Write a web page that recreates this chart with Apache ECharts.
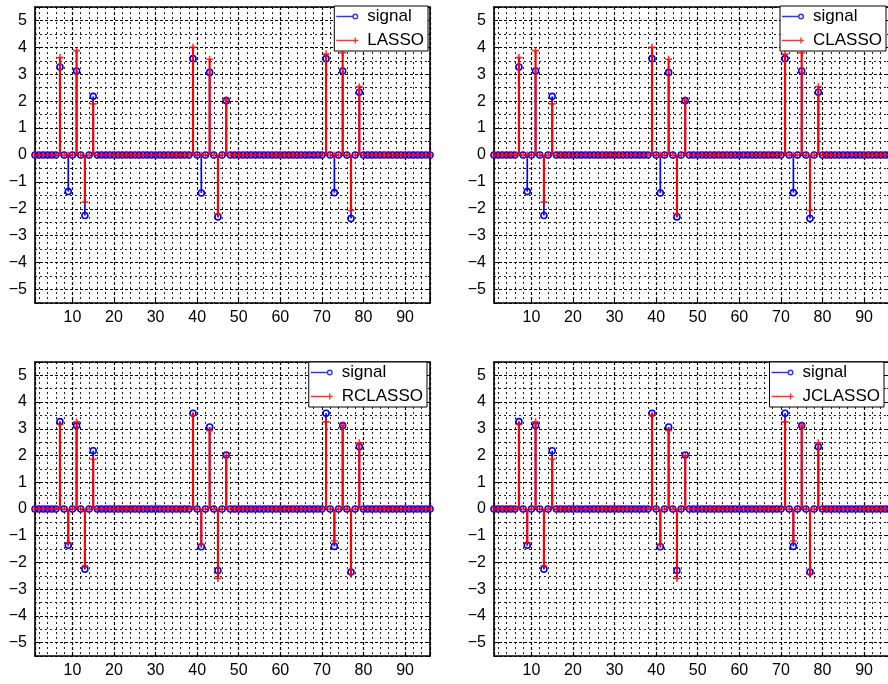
<!DOCTYPE html>
<html>
<head>
<meta charset="utf-8">
<script src="https://cdn.jsdelivr.net/npm/echarts@6/dist/echarts.min.js"></script>
<style>
html, body { margin: 0; padding: 0; background: #fff; }
#main { width: 888px; height: 684px; }
</style>
</head>
<body>
<div id="main"></div>
<script>
// signal length and positions of the non-zero entries
var N = 96;
var spikeIdx = [7, 9, 11, 13, 15, 39, 41, 43, 45, 47, 71, 73, 75, 77, 79];
var signalVal = [3.27, -1.36, 3.12, -2.25, 2.18, 3.58, -1.41, 3.07, -2.30, 2.02, 3.58, -1.40, 3.12, -2.36, 2.33];
var lassoVal = [3.62, 0, 3.88, -1.75, 1.90, 4.00, 0, 3.56, -2.20, 2.05, 3.75, 0, 3.80, -2.06, 2.54];
var classoVal = [3.62, 0, 3.88, -1.75, 1.90, 4.00, 0, 3.56, -2.20, 2.05, 3.75, 0, 3.80, -2.06, 2.54];
var rclassoVal = [3.16, -1.27, 3.26, -2.13, 1.86, 3.51, -1.33, 2.93, -2.60, 2.00, 3.26, -1.20, 3.14, -2.44, 2.48];
var jclassoVal = [3.16, -1.27, 3.26, -2.13, 1.86, 3.51, -1.33, 2.93, -2.60, 2.00, 3.26, -1.20, 3.14, -2.44, 2.48];
var xTickLabels = [10, 20, 30, 40, 50, 60, 70, 80, 90];
var yTickLabels = [-5, -4, -3, -2, -1, 0, 1, 2, 3, 4, 5];

var FONT = '"Liberation Sans", Arial, Helvetica, sans-serif';
var BLUE = '#0000ff', RED = '#ff0000';

// layout of the four subplots
var panels = [
  { name: 'LASSO', est: lassoVal, left: 35, top: 7, height: 296, legRight: 460, legTop: 6 },
  { name: 'CLASSO', est: classoVal, left: 494, top: 7, height: 296, legRight: 2, legTop: 6 },
  { name: 'RCLASSO', est: rclassoVal, left: 35, top: 362, height: 294, legRight: 461, legTop: 362 },
  { name: 'JCLASSO', est: jclassoVal, left: 494, top: 362, height: 294, legRight: 4, legTop: 362 }
];

function fullSeries(vals) {
  var out = [];
  for (var x = 1; x <= N; x++) {
    var k = spikeIdx.indexOf(x);
    out.push([x, k >= 0 ? vals[k] : 0]);
  }
  return out;
}

function stemRender(color, w) {
  return function (params, api) {
    var x = api.value(0), y = api.value(1);
    var p0 = api.coord([x, 0]);
    var p1 = api.coord([x, y]);
    return {
      type: 'line',
      shape: { x1: p0[0], y1: p0[1], x2: p1[0], y2: p1[1] },
      style: { stroke: color, lineWidth: w }
    };
  };
}

// ring marker drawn as a stroked circle through a custom series, so it stays round
function ringRender(color, r, w) {
  return function (params, api) {
    var p = api.coord([api.value(0), api.value(1)]);
    return {
      type: 'circle',
      shape: { cx: p[0], cy: p[1], r: r },
      style: { fill: 'none', stroke: color, lineWidth: w }
    };
  };
}

var iconSignal = 'path://M0 2.2H17V3.8H0Z M22 3A3 3 0 1 1 16 3A3 3 0 1 1 22 3Z M20.6 3A1.6 1.6 0 1 0 17.4 3A1.6 1.6 0 1 0 20.6 3Z';
var iconEst = 'path://M0 2.3H22V3.7H0Z M18.3 0H19.7V6H18.3Z';
var plusSym = 'path://M2.7 0H4.3V2.7H7V4.3H4.3V7H2.7V4.3H0V2.7H2.7Z';

var axisLineStyle = { color: '#000', width: 1.6 };
var majorSplit = { show: true, lineStyle: { color: '#000', type: [3, 2], width: 1.2 } };
var minorSplit = { show: true, lineStyle: { color: '#222', type: [2, 3], width: 1 } };

var grids = [], xAxes = [], yAxes = [], series = [], legends = [];

panels.forEach(function (p, i) {
  grids.push({
    left: p.left, top: p.top, width: 395, height: p.height,
    containLabel: false, outerBoundsMode: 'none'
  });
  // major x axis (labels, dashed grid every 10)
  xAxes.push({
    gridIndex: i, type: 'value', min: 1, max: N, splitNumber: 10, position: 'bottom', z: 2,
    axisLine: { show: true, onZero: false, lineStyle: axisLineStyle },
    axisTick: { show: true, inside: true, length: 4, lineStyle: { color: '#000' } },
    axisLabel: {
      color: '#000', fontSize: 16, fontFamily: FONT, margin: 7,
      formatter: function (v) { return xTickLabels.indexOf(v) >= 0 ? String(v) : ''; }
    },
    splitLine: majorSplit
  });
  // minor x axis (top edge, dotted grid every 2)
  xAxes.push({
    gridIndex: i, type: 'value', min: 1, max: N, splitNumber: 48, position: 'top', z: 1,
    axisLine: { show: true, onZero: false, lineStyle: axisLineStyle },
    axisTick: { show: true, inside: true, length: 2, lineStyle: { color: '#000' } },
    axisLabel: { show: false },
    splitLine: minorSplit
  });
  yAxes.push({
    gridIndex: i, type: 'value', min: -5.5, max: 5.5, splitNumber: 11, position: 'left', z: 2,
    axisLine: { show: true, onZero: false, lineStyle: axisLineStyle },
    axisTick: { show: true, inside: true, length: 4, lineStyle: { color: '#000' } },
    axisLabel: {
      color: '#000', fontSize: 16, fontFamily: FONT, margin: 8,
      formatter: function (v) {
        if (yTickLabels.indexOf(v) < 0) return '';
        return v < 0 ? '\u2212' + (-v) : String(v);
      }
    },
    splitLine: majorSplit
  });
  yAxes.push({
    gridIndex: i, type: 'value', min: -5.5, max: 5.5, splitNumber: 22, position: 'right', z: 1,
    axisLine: { show: true, onZero: false, lineStyle: axisLineStyle },
    axisTick: { show: true, inside: true, length: 2, lineStyle: { color: '#000' } },
    axisLabel: { show: false },
    splitLine: minorSplit
  });

  var sig = fullSeries(signalVal);
  var est = fullSeries(p.est);
  var ax = { xAxisIndex: 2 * i, yAxisIndex: 2 * i };

  series.push(Object.assign({
    type: 'custom', name: 'signal stem', data: sig, z: 3, silent: true,
    encode: { x: 0, y: 1 }, renderItem: stemRender(BLUE, 1.7)
  }, ax));
  series.push(Object.assign({
    type: 'custom', name: 'signal marker', data: sig, z: 4, silent: true,
    encode: { x: 0, y: 1 }, renderItem: ringRender(BLUE, 3, 1.6)
  }, ax));
  series.push(Object.assign({
    type: 'custom', name: p.name + ' stem', data: est, z: 5, silent: true,
    encode: { x: 0, y: 1 }, renderItem: stemRender(RED, 2.2)
  }, ax));
  series.push(Object.assign({
    type: 'scatter', name: p.name, data: est, z: 6, silent: true,
    symbol: plusSym, symbolSize: 7,
    itemStyle: { color: RED }
  }, ax));
  // legend carrier for the signal entry (markers themselves come from the ring series)
  series.push(Object.assign({
    type: 'scatter', name: 'signal', data: [], silent: true,
    itemStyle: { color: BLUE }
  }, ax));

  legends.push({
    orient: 'vertical', right: p.legRight, top: p.legTop,
    backgroundColor: '#fff', borderColor: '#000', borderWidth: 1,
    padding: [2, 4, 2, 2], itemGap: 7, itemWidth: 22, itemHeight: 6,
    selectedMode: false, z: 10,
    textStyle: { color: '#000', fontSize: 17, fontFamily: FONT, padding: [0, 0, 0, 4] },
    data: [
      { name: 'signal', icon: iconSignal, itemStyle: { color: BLUE, borderWidth: 0 } },
      { name: p.name, icon: iconEst, itemStyle: { color: RED, borderWidth: 0 } }
    ]
  });
});

var chart = echarts.init(document.getElementById('main'), null, { renderer: 'canvas' });
chart.setOption({
  backgroundColor: '#fff',
  animation: false,
  grid: grids,
  xAxis: xAxes,
  yAxis: yAxes,
  legend: legends,
  series: series
});
</script>
</body>
</html>
